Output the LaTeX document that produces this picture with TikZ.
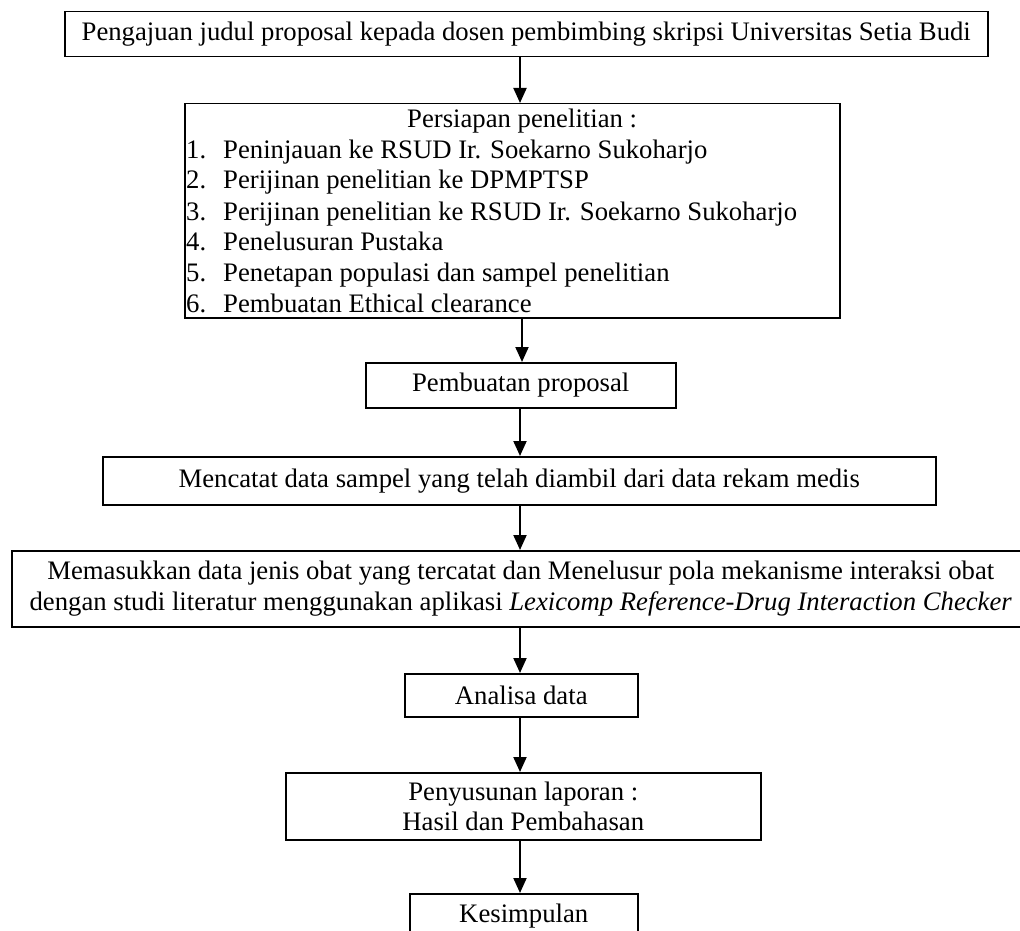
\documentclass[tikz,border=0pt]{standalone}
\usepackage{fontspec}
\setmainfont{Liberation Serif}
\usetikzlibrary{arrows.meta}
\begin{document}
\begin{tikzpicture}[x=1pt,y=-1pt,
  font=\fontsize{26.7}{30.5}\selectfont,
  box/.style={draw, line width=1.5pt, inner sep=0pt, anchor=north west, align=center},
  lbl/.style={inner sep=0pt, anchor=base west},
  arr/.style={line width=2pt, -{Triangle[width=13pt,length=15pt]}}]
\useasboundingbox (0,0) rectangle (1020,931);
\coordinate (ax) at (520,0);
\coordinate (ax2) at (522,0);
% boxes
\node[box, minimum width=923pt, minimum height=45pt] (b1) at (64,11)
  {Pengajuan judul proposal kepada dosen pembimbing skripsi Universitas Setia Budi};
\node[box, minimum width=655pt, minimum height=214pt] (b2) at (184,103) {};
\node[box, minimum width=310pt, minimum height=45pt] (b3) at (365,362) {Pembuatan proposal};
\node[box, minimum width=833pt, minimum height=48pt] (b4) at (102,456)
  {Mencatat data sampel yang telah diambil dari data rekam medis};
\node[box, minimum width=1018pt, minimum height=76pt] (b5) at (11,550)
  {Memasukkan data jenis obat yang tercatat dan Menelusur pola mekanisme interaksi obat\\
   dengan studi literatur menggunakan aplikasi \textit{Lexicomp Reference-Drug Interaction Checker}};
\node[box, minimum width=233pt, minimum height=43pt] (b6) at (404,673) {Analisa data};
\node[box, minimum width=475pt, minimum height=67pt] (b7) at (285,772)
  {Penyusunan laporan :\\ Hasil dan Pembahasan};
\node[box, minimum width=228pt, minimum height=45pt] (b8) at (409,893) {Kesimpulan};
% list in box 2
\node[lbl] (t0) at (407,128) {Persiapan penelitian :};
\node[lbl] (n1) at (186,158) {1.};
\node[lbl] (i1) at (223,158) {Peninjauan ke RSUD Ir. Soekarno Sukoharjo};
\node[lbl] (n2) at (186,189) {2.};
\node[lbl] (i2) at (223,189) {Perijinan penelitian ke DPMPTSP};
\node[lbl] (n3) at (186,220) {3.};
\node[lbl] (i3) at (223,220) {Perijinan penelitian ke RSUD Ir. Soekarno Sukoharjo};
\node[lbl] (n4) at (186,250) {4.};
\node[lbl] (i4) at (223,250) {Penelusuran Pustaka};
\node[lbl] (n5) at (186,281) {5.};
\node[lbl] (i5) at (223,281) {Penetapan populasi dan sampel penelitian};
\node[lbl] (n6) at (186,312) {6.};
\node[lbl] (i6) at (223,312) {Pembuatan Ethical clearance};
% arrows
\draw[arr] (b1.south -| ax) -- (b2.north -| ax);
\draw[arr] (b2.south -| ax2) -- (b3.north -| ax2);
\draw[arr] (b3.south -| ax) -- (b4.north -| ax);
\draw[arr] (b4.south -| ax) -- (b5.north -| ax);
\draw[arr] (b5.south -| ax) -- (b6.north -| ax);
\draw[arr] (b6.south -| ax) -- (b7.north -| ax);
\draw[arr] (b7.south -| ax) -- (b8.north -| ax);
\end{tikzpicture}
\end{document}
